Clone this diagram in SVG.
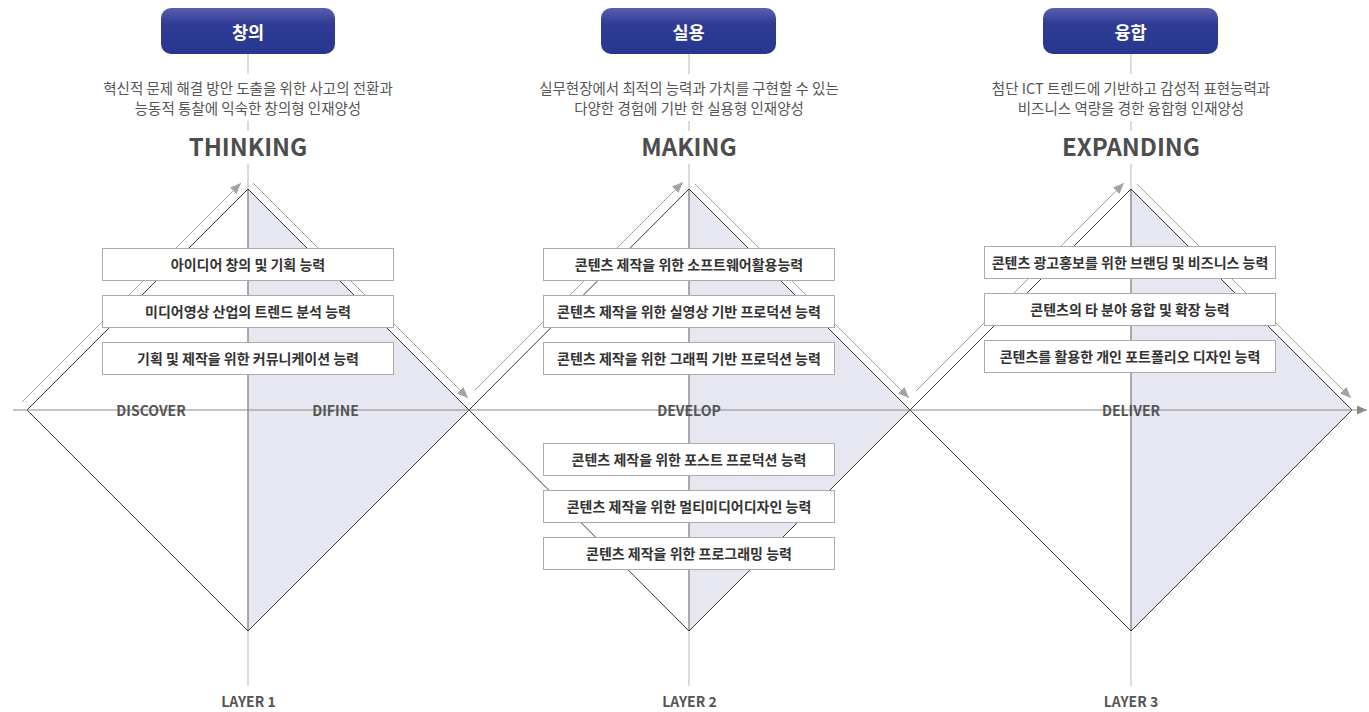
<svg xmlns="http://www.w3.org/2000/svg" width="1369" height="712" viewBox="0 0 1369 712">
<style>
text{font-family:"Noto Sans CJK KR","Noto Sans",sans-serif;}
.hdr-t{font-size:17.5px;font-weight:700;fill:#fff;text-anchor:middle;}
.desc{font-size:14.5px;fill:#555;text-anchor:middle;}
.big{font-size:24px;font-weight:700;fill:#4d4d4d;text-anchor:middle;}
.lbl{font-size:14px;font-weight:700;fill:#555;text-anchor:middle;}
.box rect{fill:#fff;stroke:#ababab;stroke-width:1;}
.box text{font-size:14px;font-weight:700;fill:#333;text-anchor:middle;}
.vlight{stroke:#c4c4c4;stroke-width:1.2;fill:none;}
.vdark{stroke:#8a8a8a;stroke-width:1.2;fill:none;}
.edge{stroke:#3a3a3a;stroke-width:1;fill:none;}
.half{fill:#e7e7f1;}
.arr{stroke:#a3a3a3;stroke-width:1;fill:none;marker-end:url(#ah);}
.axis{stroke:#8a8a8a;stroke-width:1.2;fill:none;marker-end:url(#ah2);}
</style>
<defs>
<marker id="ah" markerUnits="userSpaceOnUse" markerWidth="12" markerHeight="10" refX="11" refY="5" orient="auto">
<path d="M0,0.5 L11,5 L0,9.5 z" fill="#a3a3a3"/>
</marker>
<marker id="ah2" markerUnits="userSpaceOnUse" markerWidth="12" markerHeight="10" refX="10" refY="5" orient="auto">
<path d="M0,0.5 L10,5 L0,9.5 z" fill="#8a8a8a"/>
</marker>
<linearGradient id="hg" x1="0" y1="0" x2="0" y2="1">
<stop offset="0" stop-color="#5a5fae"/>
<stop offset="0.35" stop-color="#2f3b95"/>
<stop offset="1" stop-color="#27378f"/>
</linearGradient>
</defs>
<rect width="1369" height="712" fill="#fff"/>

<g id="diamond1">
<polygon class="half" points="248,189 469,410 248,631"/>
<path class="vlight" d="M248,54 V74 M248,121 V131 M248,164 V686"/>
<path class="vdark" d="M248,189 V631"/>
<polygon class="edge" points="248,189 469,410 248,631 27,410"/>
</g>
<g id="diamond2">
<polygon class="half" points="689,189 910,410 689,631"/>
<path class="vlight" d="M689,54 V74 M689,121 V131 M689,164 V686"/>
<path class="vdark" d="M689,189 V631"/>
<polygon class="edge" points="689,189 910,410 689,631 469,410"/>
</g>
<g id="diamond3">
<polygon class="half" points="1131,189 1352,410 1131,631"/>
<path class="vlight" d="M1131,54 V74 M1131,121 V131 M1131,164 V686"/>
<path class="vdark" d="M1131,189 V631"/>
<polygon class="edge" points="1131,189 1352,410 1131,631 910,410"/>
</g>

<g id="connectors">
<path class="axis" d="M13,410 H1367"/>
<path class="arr" d="M22,402 L241,183"/>
<path class="arr" d="M253,183 L468,398"/>
<path class="arr" d="M475,390 L683,182"/>
<path class="arr" d="M695,184 L909,398"/>
<path class="arr" d="M916,391 L1124,183"/>
<path class="arr" d="M1137,184 L1351,398"/>
</g>

<g id="header1">
<rect x="161" y="8" width="174" height="46" rx="10" fill="url(#hg)"/>
<text class="hdr-t" x="248" y="38.5">창의</text>
</g>
<g id="header2">
<rect x="601" y="8" width="175" height="46" rx="10" fill="url(#hg)"/>
<text class="hdr-t" x="688.5" y="38.5">실용</text>
</g>
<g id="header3">
<rect x="1043" y="8" width="175" height="46" rx="10" fill="url(#hg)"/>
<text class="hdr-t" x="1130.5" y="38.5">융합</text>
</g>

<g id="desc1">
<text class="desc" x="248" y="93.5">혁신적 문제 해결 방안 도출을 위한 사고의 전환과</text>
<text class="desc" x="248" y="113.5">능동적 통찰에 익숙한 창의형 인재양성</text>
<text class="big" x="248" y="156">THINKING</text>
</g>
<g id="desc2">
<text class="desc" x="689" y="93.5">실무현장에서 최적의 능력과 가치를 구현할 수 있는</text>
<text class="desc" x="689" y="113.5">다양한 경험에 기반 한 실용형 인재양성</text>
<text class="big" x="689" y="156">MAKING</text>
</g>
<g id="desc3">
<text class="desc" x="1131" y="93.5">첨단 ICT 트렌드에 기반하고 감성적 표현능력과</text>
<text class="desc" x="1131" y="113.5">비즈니스 역량을 경한 융합형 인재양성</text>
<text class="big" x="1131" y="156">EXPANDING</text>
</g>

<g id="box1-1" class="box"><rect x="102.5" y="248.5" width="291" height="32"/><text x="248" y="269.5">아이디어 창의 및 기획 능력</text></g>
<g id="box1-2" class="box"><rect x="102.5" y="295.5" width="291" height="32"/><text x="248" y="316.5">미디어영상 산업의 트렌드 분석 능력</text></g>
<g id="box1-3" class="box"><rect x="102.5" y="342.5" width="291" height="32"/><text x="248" y="363.5">기획 및 제작을 위한 커뮤니케이션 능력</text></g>

<g id="box2-1" class="box"><rect x="543.5" y="248.5" width="291" height="32"/><text x="689" y="269.5">콘텐츠 제작을 위한 소프트웨어활용능력</text></g>
<g id="box2-2" class="box"><rect x="543.5" y="295.5" width="291" height="32"/><text x="689" y="316.5">콘텐츠 제작을 위한 실영상 기반 프로덕션 능력</text></g>
<g id="box2-3" class="box"><rect x="543.5" y="342.5" width="291" height="32"/><text x="689" y="363.5">콘텐츠 제작을 위한 그래픽 기반 프로덕션 능력</text></g>
<g id="box2-4" class="box"><rect x="543.5" y="443.5" width="291" height="32"/><text x="689" y="464.5">콘텐츠 제작을 위한 포스트 프로덕션 능력</text></g>
<g id="box2-5" class="box"><rect x="543.5" y="490.5" width="291" height="32"/><text x="689" y="511.5">콘텐츠 제작을 위한 멀티미디어디자인 능력</text></g>
<g id="box2-6" class="box"><rect x="543.5" y="537.5" width="291" height="32"/><text x="689" y="558.5">콘텐츠 제작을 위한 프로그래밍 능력</text></g>

<g id="box3-1" class="box"><rect x="984.5" y="246.5" width="291" height="32"/><text x="1130" y="267.5">콘텐츠 광고홍보를 위한 브랜딩 및 비즈니스 능력</text></g>
<g id="box3-2" class="box"><rect x="984.5" y="293.5" width="291" height="32"/><text x="1130" y="314.5">콘텐츠의 타 분야 융합 및 확장 능력</text></g>
<g id="box3-3" class="box"><rect x="984.5" y="340.5" width="291" height="32"/><text x="1130" y="361.5">콘텐츠를 활용한 개인 포트폴리오 디자인 능력</text></g>

<g id="labels">
<text class="lbl" x="151" y="415.5">DISCOVER</text>
<text class="lbl" x="335.5" y="415.5">DIFINE</text>
<text class="lbl" x="689" y="415.5">DEVELOP</text>
<text class="lbl" x="1131" y="415.5">DELIVER</text>
<text class="lbl" x="248.5" y="707">LAYER 1</text>
<text class="lbl" x="689.5" y="707">LAYER 2</text>
<text class="lbl" x="1131" y="707">LAYER 3</text>
</g>
</svg>
